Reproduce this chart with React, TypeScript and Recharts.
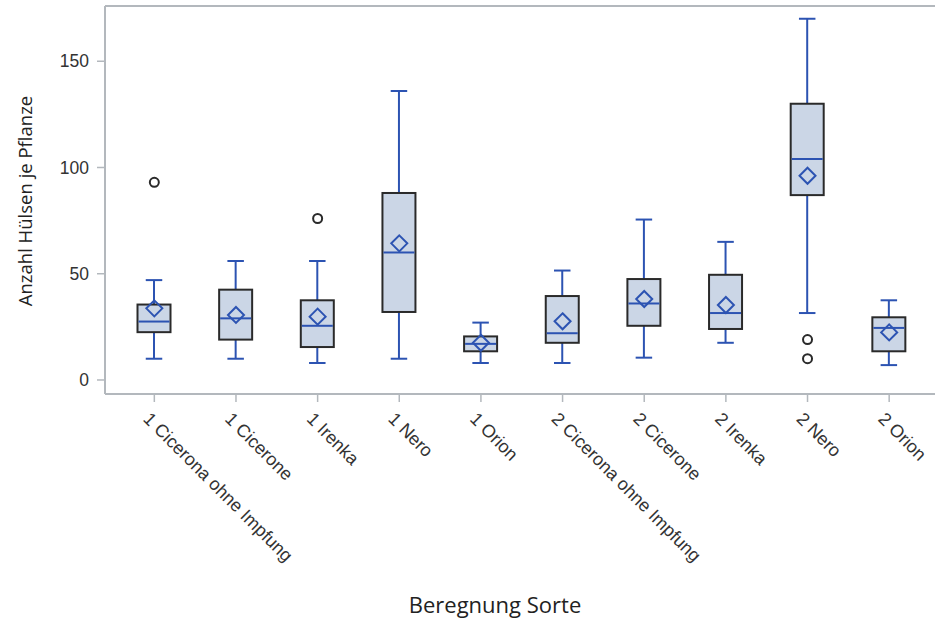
import { ComposedChart, Bar, Scatter, XAxis, YAxis, ReferenceLine } from "recharts";

// Beregnung + Sorte, one box per group
const SORTEN = [
  "1 Cicerona ohne Impfung",
  "1 Cicerone",
  "1 Irenka",
  "1 Nero",
  "1 Orion",
  "2 Cicerona ohne Impfung",
  "2 Cicerone",
  "2 Irenka",
  "2 Nero",
  "2 Orion",
];

const WHISKER_LOW = [10, 10, 8, 10, 8, 8, 10.5, 17.5, 31.5, 7];
const Q1 = [22.5, 19, 15.5, 32, 13.5, 17.5, 25.5, 24, 87, 13.5];
const MEDIAN = [27.5, 29, 25.5, 60, 17, 22, 36, 31.5, 104, 24.5];
const Q3 = [35.5, 42.5, 37.5, 88, 20.5, 39.5, 47.5, 49.5, 130, 29.5];
const WHISKER_HIGH = [47, 56, 56, 136, 27, 51.5, 75.5, 65, 170, 37.5];
const MEAN = [33.7, 30.6, 29.8, 64.3, 17.5, 27.6, 38.1, 35.3, 96.1, 22.4];

const OUTLIER_SORTE = ["1 Cicerona ohne Impfung", "1 Irenka", "2 Nero", "2 Nero"];
const OUTLIER_VALUE = [93, 76, 19, 10];

const Y_TICKS = [0, 50, 100, 150];
const Y_MIN = -6.6;
const Y_MAX = 176;

const BLUE = "#2c53b2";
const BOX_FILL = "#cbd6e6";
const BOX_EDGE = "#2a2a2a";
const FRAME = "#b3b8bd";
const TEXT = "#333333";
const TICK_FONT = "'Liberation Sans', Arial, sans-serif";
const TITLE_FONT = "'Open Sans', 'Noto Sans', sans-serif";

const data = SORTEN.map((sorte, i) => ({
  sorte,
  range: [WHISKER_LOW[i], WHISKER_HIGH[i]],
  q1: Q1[i],
  median: MEDIAN[i],
  q3: Q3[i],
  mean: MEAN[i],
}));

const outliers = OUTLIER_SORTE.map((sorte, i) => ({
  sorte,
  value: OUTLIER_VALUE[i],
}));

// whiskers + box + median, positioned off the bar's own range scale
function BoxShape(props: any) {
  const { x, y, width, height, payload } = props;
  const [lo, hi] = payload.range;
  const toY = (v: number) => y + ((hi - v) / (hi - lo)) * height;
  const cx = x + width / 2;
  const cap = width / 4;
  const yQ1 = toY(payload.q1);
  const yQ3 = toY(payload.q3);
  const yMed = toY(payload.median);
  const yLo = y + height;

  return (
    <g>
      <line x1={cx} x2={cx} y1={y} y2={yQ3} stroke={BLUE} strokeWidth={2} />
      <line x1={cx} x2={cx} y1={yQ1} y2={yLo} stroke={BLUE} strokeWidth={2} />
      <line x1={cx - cap} x2={cx + cap} y1={y} y2={y} stroke={BLUE} strokeWidth={2} />
      <line x1={cx - cap} x2={cx + cap} y1={yLo} y2={yLo} stroke={BLUE} strokeWidth={2} />
      <rect
        x={x}
        y={yQ3}
        width={width}
        height={yQ1 - yQ3}
        fill={BOX_FILL}
        stroke={BOX_EDGE}
        strokeWidth={2}
      />
      <line x1={x + 1} x2={x + width - 1} y1={yMed} y2={yMed} stroke={BLUE} strokeWidth={2} />
    </g>
  );
}

function MeanDiamond(props: any) {
  const { cx, cy } = props;
  const r = 8;
  return (
    <polygon
      points={`${cx},${cy - r} ${cx + r},${cy} ${cx},${cy + r} ${cx - r},${cy}`}
      fill="none"
      stroke={BLUE}
      strokeWidth={2}
    />
  );
}

function OutlierCircle(props: any) {
  const { cx, cy } = props;
  return <circle cx={cx} cy={cy} r={4.5} fill="none" stroke={BOX_EDGE} strokeWidth={2} />;
}

function SorteTick(props: any) {
  const { x, y, payload } = props;
  const ax = x - 12;
  const ay = y + 16;
  return (
    <text
      x={ax}
      y={ay}
      transform={`rotate(45 ${ax} ${ay})`}
      fontSize={18}
      fontFamily={TICK_FONT}
      fill={TEXT}
      textAnchor="start"
    >
      {payload.value}
    </text>
  );
}

export default function App() {
  return (
    <div
      style={{
        position: "absolute",
        left: 0,
        top: 0,
        width: 935,
        height: 621,
        background: "#fff",
      }}
    >
      <ComposedChart
        width={935}
        height={621}
        data={data}
        margin={{ top: 6, right: 0, bottom: 0, left: 0 }}
      >
        <XAxis
          dataKey="sorte"
          type="category"
          allowDuplicatedCategory={false}
          height={227}
          padding={{ left: 8.5, right: 5 }}
          interval={0}
          tickSize={8}
          tick={<SorteTick />}
          axisLine={{ stroke: FRAME, strokeWidth: 2 }}
          tickLine={{ stroke: FRAME, strokeWidth: 1.5 }}
        />
        <YAxis
          type="number"
          width={105}
          domain={[Y_MIN, Y_MAX]}
          allowDataOverflow
          ticks={Y_TICKS}
          tickSize={8}
          tickMargin={8}
          tick={{ fontSize: 17.5, fill: TEXT, fontFamily: TICK_FONT }}
          axisLine={{ stroke: FRAME, strokeWidth: 2 }}
          tickLine={{ stroke: FRAME, strokeWidth: 1.5 }}
        />
        <ReferenceLine y={Y_MAX} stroke={FRAME} strokeWidth={2} />
        <Bar dataKey="range" barSize={33} shape={<BoxShape />} isAnimationActive={false} />
        <Scatter dataKey="mean" shape={<MeanDiamond />} isAnimationActive={false} />
        <Scatter
          data={outliers}
          dataKey="value"
          shape={<OutlierCircle />}
          isAnimationActive={false}
        />
      </ComposedChart>

      <div
        style={{
          position: "absolute",
          left: 24,
          top: 201,
          transform: "translate(-50%, -50%) rotate(-90deg)",
          whiteSpace: "nowrap",
          fontFamily: TITLE_FONT,
          fontSize: 18.5,
          color: "#222",
        }}
      >
        Anzahl Hülsen je Pflanze
      </div>
      <div
        style={{
          position: "absolute",
          left: 495,
          top: 589,
          transform: "translateX(-50%)",
          whiteSpace: "nowrap",
          fontFamily: TITLE_FONT,
          fontSize: 22,
          color: "#222",
        }}
      >
        Beregnung Sorte
      </div>
    </div>
  );
}
